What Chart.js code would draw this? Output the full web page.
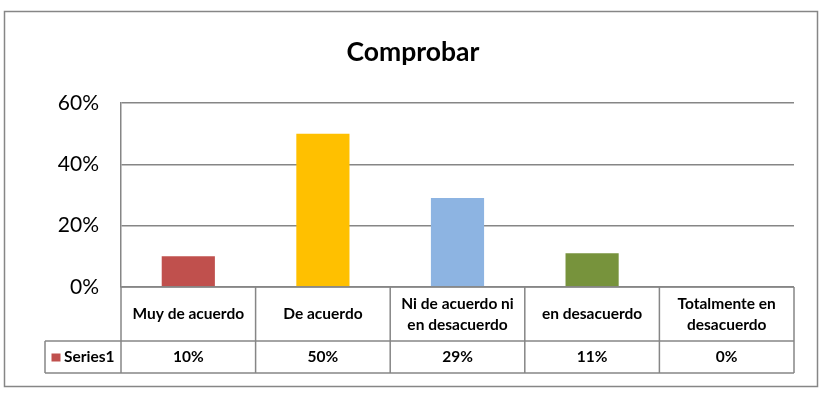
<!DOCTYPE html>
<html>
<head>
<meta charset="utf-8">
<script src="https://cdn.jsdelivr.net/npm/chart.js@4"></script>
<style>
html,body{margin:0;padding:0;background:#fff;}
#wrap{position:relative;width:823px;height:397px;}
</style>
</head>
<body>
<div id="wrap"><canvas id="c" width="823" height="397"></canvas></div>
<script>
const categories = ["Muy de acuerdo", "De acuerdo", "Ni de acuerdo ni|en desacuerdo", "en desacuerdo", "Totalmente en|desacuerdo"];
const values = [0.10, 0.50, 0.29, 0.11, 0.00];
const barColors = ["#C0504D", "#FFC000", "#8DB4E2", "#77933C", "#4BACC6"];
const yTicks = [0, 0.2, 0.4, 0.6];
const seriesName = "Series1";
const chartTitle = "Comprobar";

const FONT = "Lato, 'Open Sans', sans-serif";
const LINE = "#868686";

const tablePlugin = {
  id: 'dataTable',
  afterDraw(chart) {
    const ctx = chart.ctx;
    const x = chart.scales.x;
    const area = chart.chartArea;
    const n = categories.length;
    const colW = (x.right - x.left) / n;
    const top = area.bottom;
    const mid = top + 54;
    const bot = mid + 32;
    const legL = 45;
    ctx.save();
    // title
    ctx.fillStyle = "#000";
    ctx.textAlign = "center";
    ctx.textBaseline = "alphabetic";
    ctx.font = "bold 26.5px " + FONT;
    ctx.fillText(chartTitle, 413, 61);
    // outer frame
    ctx.strokeStyle = LINE;
    ctx.lineWidth = 1.5;
    ctx.strokeRect(4.5, 11.5, 813, 375);
    // table lines
    ctx.beginPath();
    ctx.moveTo(x.left, top); ctx.lineTo(x.right, top);
    ctx.moveTo(legL, mid); ctx.lineTo(x.right, mid);
    ctx.moveTo(legL, bot); ctx.lineTo(x.right, bot);
    ctx.moveTo(legL, mid); ctx.lineTo(legL, bot);
    for (let i = 0; i <= n; i++) {
      const px = x.left + i * colW;
      ctx.moveTo(px, top); ctx.lineTo(px, bot);
    }
    ctx.stroke();
    // texts
    ctx.fillStyle = "#000";
    ctx.textAlign = "center";
    ctx.textBaseline = "middle";
    ctx.font = "bold 15.5px " + FONT;
    for (let i = 0; i < n; i++) {
      const cx = x.getPixelForValue(i);
      const lines = categories[i].split("|");
      const lh = 21;
      const y0 = (top + mid) / 2 - (lines.length - 1) * lh / 2;
      lines.forEach((l, k) => ctx.fillText(l, cx, y0 + k * lh));
      ctx.fillText(Math.round(values[i] * 100) + "%", cx, (mid + bot) / 2);
    }
    // legend key
    ctx.fillStyle = barColors[0];
    ctx.fillRect(51.5, 353.5, 9, 8);
    ctx.fillStyle = "#000";
    ctx.textAlign = "left";
    ctx.fillText(seriesName, 64, (mid + bot) / 2);
    ctx.restore();
  }
};

new Chart(document.getElementById('c'), {
  type: 'bar',
  data: {
    labels: categories.map(c => c.replace("|", " ")),
    datasets: [{
      label: seriesName,
      data: values,
      backgroundColor: barColors,
      borderWidth: 0,
      categoryPercentage: 1,
      barPercentage: 0.395
    }]
  },
  options: {
    responsive: false,
    animation: false,
    layout: { padding: { left: 4, right: 29, top: 103, bottom: 110 } },
    plugins: {
      legend: { display: false },
      tooltip: { enabled: false },
      title: { display: false }
    },
    scales: {
      x: { display: false },
      y: {
        min: 0, max: 0.6,
        afterFit(s) { s.width = 117; },
        afterBuildTicks(s) { s.ticks = yTicks.map(v => ({ value: v })); },
        ticks: {
          padding: 22,
          color: "#000",
          font: { family: FONT, size: 21 },
          callback: v => Math.round(v * 100) + "%"
        },
        grid: { color: LINE, lineWidth: 1.5, drawTicks: false },
        border: { display: true, color: LINE, width: 1.5 }
      }
    }
  },
  plugins: [tablePlugin]
});
</script>
</body>
</html>
